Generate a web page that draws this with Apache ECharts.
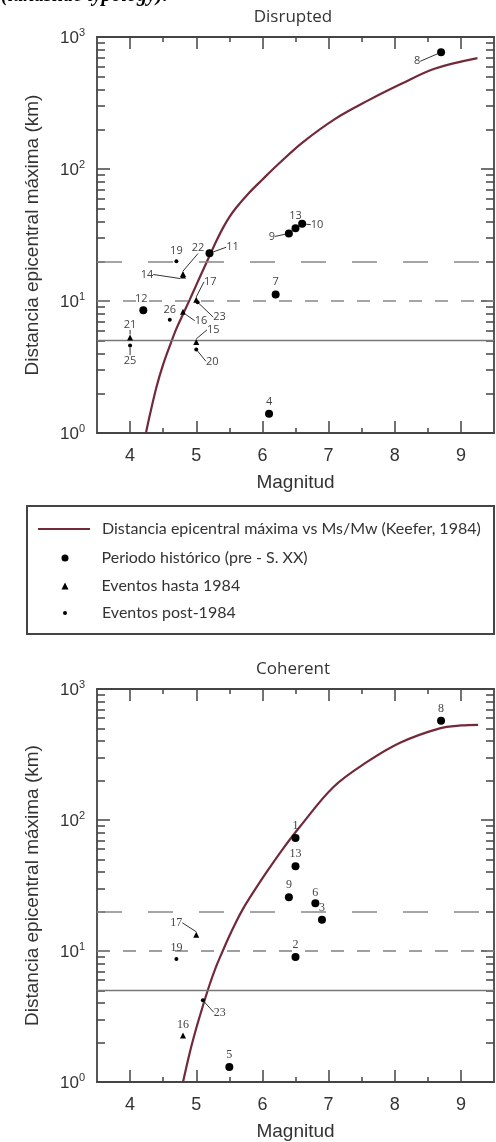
<!DOCTYPE html>
<html>
<head>
<meta charset="utf-8">
<script src="https://cdn.jsdelivr.net/npm/echarts@6/dist/echarts.min.js"></script>
<style>
html,body{margin:0;padding:0;background:#fff;}
#chart{width:496px;height:1142px;}
</style>
</head>
<body>
<div id="chart"></div>
<script>
// ---------- data ----------
const curveName = 'Distancia epicentral máxima vs Ms/Mw (Keefer, 1984)';
const historicName = 'Periodo histórico (pre - S. XX)';
const hastaName = 'Eventos hasta 1984';
const postName = 'Eventos post-1984';

const xMajorTicks = [4, 5, 6, 7, 8, 9];
const xMinorTicks = [4.5, 5.5, 6.5, 7.5, 8.5];
const yMinorTicks = [2, 3, 4, 5, 6, 7, 8, 9, 20, 30, 40, 50, 60, 70, 80, 90, 200, 300, 400, 500, 600, 700, 800, 900];
const thresholds = [20, 10, 5];

// Disrupted
const disruptedCurve = [[4.24,1],[4.3,1.38],[4.4,2.24],[4.5,3.31],[4.6,4.57],[4.7,6.17],[4.8,7.94],[4.9,10.2],[5.0,13.2],[5.1,17.0],[5.2,21.9],[5.3,28.2],[5.4,35.5],[5.5,43.2],[5.6,50.7],[5.8,66.1],[6.0,83.2],[6.25,110],[6.6,158],[7.1,240],[7.6,331],[8.1,442],[8.6,575],[9.25,692]];
const disruptedHistoric = [[8.7,766],[6.4,32.5],[6.5,35.5],[6.6,38.5],[5.2,23],[6.2,11.2],[4.2,8.5],[6.1,1.4]];
const disruptedHistoricIds = ['8','9','13','10','11','7','12','4'];
const disruptedHasta = [[4.8,15.6],[4.8,16.0],[5.0,10.2],[4.8,8.3],[4.0,5.3],[5.0,4.9]];
const disruptedHastaIds = ['14','22','17','16','21','15'];
const disruptedPost = [[4.7,20],[4.6,7.2],[5.02,9.8],[4.0,4.6],[5.0,4.3]];
const disruptedPostIds = ['19','26','23','25','20'];

// Coherent
const coherentCurve = [[4.8,1],[4.9,1.66],[5.0,2.57],[5.1,3.8],[5.2,5.5],[5.3,7.59],[5.4,10],[5.5,13.0],[5.6,16.6],[5.7,20.7],[5.8,25.1],[6.06,39.8],[6.31,60.3],[6.56,88.1],[7.07,178],[7.57,275],[8.08,389],[8.68,501],[9.0,527],[9.26,533]];
const coherentHistoric = [[8.7,572],[6.5,73],[6.5,44.3],[6.4,25.7],[6.8,23.1],[6.9,17.3],[6.5,9.0],[5.5,1.3]];
const coherentHistoricIds = ['8','1','13','9','6','3','2','5'];
const coherentHasta = [[5.0,13.3],[4.8,2.26]];
const coherentHastaIds = ['17','16'];
const coherentPost = [[4.7,8.7],[5.1,4.2]];
const coherentPostIds = ['19','23'];

// ---------- label placement (style) ----------
const dHistOff = [[-24,9],[-17,3],[0,-13],[15,1],[23,-6],[0,-13],[-2,-11],[0,-12]];
const dHistLead = [true,true,false,true,true,false,false,false];
const dHastaOff = [[-36,-1],[15,-26],[14,-18],[18,9],[0,-13],[17,-12]];
const dHastaLead = [true,true,true,true,true,true];
const dPostOff = [[0,-10],[0,-10],[22,15],[0,15],[16,12]];
const dPostLead = [false,false,true,true,true];
const cHistOff = [[0,-12],[0,-12],[0,-12],[0,-12],[0,-11],[0,-12],[0,-12],[0,-12]];
const cHistLead = [false,false,false,false,false,false,false,false];
const cHastaOff = [[-20,-12],[0,-11]];
const cHastaLead = [true,false];
const cPostOff = [[0,-11],[17,12]];
const cPostLead = [false,true];

// ---------- option building ----------
const axisColor = '#444';
const axisLineStyle = {color: axisColor, width: 1.8};
const tickStyle = {color: axisColor, width: 1.5};
const curveColor = '#72293a';

function xAxes(g) {
  const base = {type: 'value', gridIndex: g, min: 3.5, max: 9.5, splitLine: {show: false}};
  return [
    Object.assign({}, base, {
      position: 'bottom',
      axisLine: {show: true, onZero: false, lineStyle: axisLineStyle},
      axisTick: {show: true, inside: true, length: 12, customValues: xMajorTicks, lineStyle: tickStyle},
      axisLabel: {customValues: xMajorTicks, margin: 14, fontSize: 18, color: '#333', fontFamily: 'Liberation Sans'},
      name: 'Magnitud', nameLocation: 'middle', nameGap: 40,
      nameTextStyle: {fontSize: 19, color: '#333', fontFamily: 'Liberation Sans'}
    }),
    Object.assign({}, base, {
      position: 'bottom',
      axisLine: {show: false, onZero: false},
      axisTick: {show: true, inside: true, length: 5, customValues: xMinorTicks, lineStyle: tickStyle},
      axisLabel: {show: false}
    }),
    Object.assign({}, base, {
      position: 'top',
      axisLine: {show: true, onZero: false, lineStyle: axisLineStyle},
      axisTick: {show: true, inside: true, length: 12, customValues: xMajorTicks, lineStyle: tickStyle},
      axisLabel: {show: false}
    }),
    Object.assign({}, base, {
      position: 'top',
      axisLine: {show: false, onZero: false},
      axisTick: {show: true, inside: true, length: 5, customValues: xMinorTicks, lineStyle: tickStyle},
      axisLabel: {show: false}
    })
  ];
}

function yAxes(g) {
  const logBase = {type: 'log', logBase: 10, gridIndex: g, min: 1, max: 1000, splitLine: {show: false}, minorTick: {show: false}};
  const minorBase = {type: 'value', gridIndex: g, min: 0, max: 3, splitLine: {show: false}, axisLabel: {show: false}, axisLine: {show: false, onZero: false}};
  const minorVals = yMinorTicks.map(v => Math.log10(v));
  return [
    Object.assign({}, logBase, {
      position: 'left',
      axisLine: {show: true, onZero: false, lineStyle: axisLineStyle},
      axisTick: {show: true, inside: true, length: 13, lineStyle: tickStyle},
      axisLabel: {
        margin: 12,
        formatter: v => '{b|10}{s|' + Math.round(Math.log10(v)) + '}',
        rich: {
          b: {fontSize: 17, lineHeight: 20, color: '#333', fontFamily: 'Liberation Sans', verticalAlign: 'bottom'},
          s: {fontSize: 11, lineHeight: 11, color: '#333', fontFamily: 'Liberation Sans', verticalAlign: 'top'}
        }
      },
      name: 'Distancia epicentral máxima (km)', nameLocation: 'middle', nameGap: 55,
      nameTextStyle: {fontSize: 19, color: '#333', fontFamily: 'Liberation Sans'}
    }),
    Object.assign({}, logBase, {
      position: 'right',
      axisLine: {show: true, onZero: false, lineStyle: axisLineStyle},
      axisTick: {show: true, inside: true, length: 13, lineStyle: tickStyle},
      axisLabel: {show: false}
    }),
    Object.assign({}, minorBase, {
      position: 'left',
      axisTick: {show: true, inside: true, length: 8, customValues: minorVals, lineStyle: tickStyle}
    }),
    Object.assign({}, minorBase, {
      position: 'right',
      axisTick: {show: true, inside: true, length: 8, customValues: minorVals, lineStyle: tickStyle}
    })
  ];
}

function curveSeries(g, data) {
  return {
    type: 'line', name: curveName, xAxisIndex: g * 4, yAxisIndex: g * 4,
    data: data, symbol: 'none', showSymbol: false, smooth: 0.35,
    lineStyle: {color: curveColor, width: 2.2}, itemStyle: {color: curveColor},
    z: 3,
    markLine: {
      silent: true, symbol: 'none', label: {show: false}, animation: false,
      data: [
        {yAxis: thresholds[0], lineStyle: {type: [25, 26], color: '#888', width: 1.6}},
        {yAxis: thresholds[1], lineStyle: {type: [13, 13], color: '#888', width: 1.6}},
        {yAxis: thresholds[2], lineStyle: {type: 'solid', color: '#777', width: 1.3}}
      ]
    }
  };
}

function scatterSeries(g, name, pts, ids, offs, leads, symbol, size, font, fsize) {
  return {
    type: 'scatter', name: name, xAxisIndex: g * 4, yAxisIndex: g * 4,
    symbol: symbol, symbolSize: size, z: 5,
    itemStyle: {color: '#000', opacity: 1},
    data: pts.map((p, i) => ({value: p, name: ids[i], labelLine: {show: leads[i]}})),
    label: {
      show: true, position: 'inside', formatter: p => p.name,
      color: '#444', fontSize: fsize, fontFamily: font, textBorderWidth: 0,
      align: 'center', verticalAlign: 'middle'
    },
    labelLayout: p => ({dx: offs[p.dataIndex][0], dy: offs[p.dataIndex][1]}),
    labelLine: {show: true, lineStyle: {color: '#333', width: 1}}
  };
}

const sans = 'Open Sans';
const serif = 'Liberation Serif';

function legendItem(name, icon, left, top, w, h, padLeft) {
  return {
    data: [{name: name, icon: icon}], left: left, top: top, orient: 'vertical', padding: 0,
    itemWidth: w, itemHeight: h, selectedMode: false,
    itemStyle: {opacity: 1},
    textStyle: {fontSize: 16, lineHeight: 18, color: '#333', fontFamily: 'Lato', padding: [0, 0, 0, padLeft]}
  };
}

const option = {
  animation: false,
  backgroundColor: '#fff',
  title: [
    {text: 'Disrupted', left: 293, top: 9, textAlign: 'center', padding: 0,
     textStyle: {fontSize: 17, fontWeight: 'normal', color: '#333', fontFamily: 'Open Sans'}},
    {text: 'Coherent', left: 293, top: 661, textAlign: 'center', padding: 0,
     textStyle: {fontSize: 17, fontWeight: 'normal', color: '#333', fontFamily: 'Open Sans'}}
  ],
  graphic: [
    {type: 'text', x: 1, y: -4, style: {text: '(landslide typology).', font: 'italic bold 20px "Liberation Serif"', fill: '#000', verticalAlign: 'middle'}},
    {type: 'rect', shape: {x: 27, y: 506, width: 467, height: 128}, style: {fill: 'none', stroke: '#444', lineWidth: 2}, z: -1}
  ],
  legend: [
    legendItem(curveName, 'rect', 38, 520, 52, 2, 7),
    legendItem(historicName, 'circle', 61.5, 549, 7, 7, 28),
    legendItem(hastaName, 'triangle', 61.5, 577, 7, 7, 28),
    legendItem(postName, 'circle', 63, 604, 4, 4, 30)
  ],
  grid: [
    {left: 97, top: 37, width: 397, height: 396},
    {left: 97, top: 689, width: 397, height: 396}
  ],
  xAxis: xAxes(0).concat(xAxes(1)),
  yAxis: yAxes(0).concat(yAxes(1)),
  series: [
    curveSeries(0, disruptedCurve),
    scatterSeries(0, historicName, disruptedHistoric, disruptedHistoricIds, dHistOff, dHistLead, 'circle', 8, sans, 11),
    scatterSeries(0, hastaName, disruptedHasta, disruptedHastaIds, dHastaOff, dHastaLead, 'triangle', 6, sans, 11),
    scatterSeries(0, postName, disruptedPost, disruptedPostIds, dPostOff, dPostLead, 'circle', 4, sans, 11),
    curveSeries(1, coherentCurve),
    scatterSeries(1, historicName, coherentHistoric, coherentHistoricIds, cHistOff, cHistLead, 'circle', 8, serif, 12),
    scatterSeries(1, hastaName, coherentHasta, coherentHastaIds, cHastaOff, cHastaLead, 'triangle', 6, serif, 12),
    scatterSeries(1, postName, coherentPost, coherentPostIds, cPostOff, cPostLead, 'circle', 4, serif, 12)
  ]
};

const chart = echarts.init(document.getElementById('chart'), null, {renderer: 'canvas'});
chart.setOption(option);
</script>
</body>
</html>
